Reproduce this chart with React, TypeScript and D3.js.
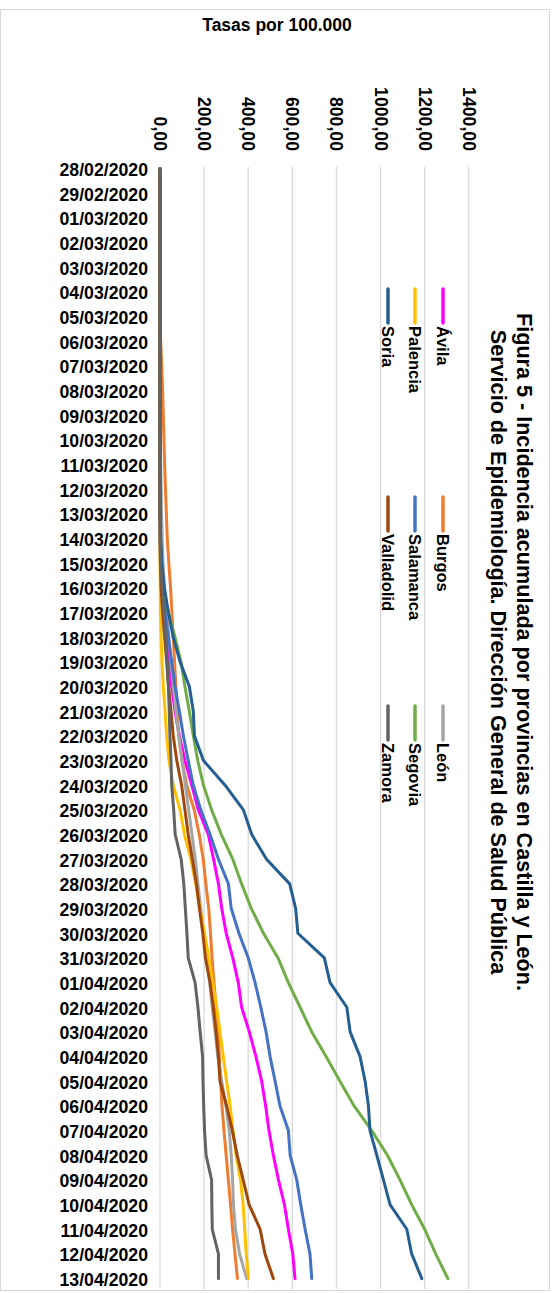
import React from "react";
import * as d3 from "d3";

const dates = [
  "28/02/2020","29/02/2020","01/03/2020","02/03/2020","03/03/2020","04/03/2020","05/03/2020","06/03/2020",
  "07/03/2020","08/03/2020","09/03/2020","10/03/2020","11/03/2020","12/03/2020","13/03/2020","14/03/2020",
  "15/03/2020","16/03/2020","17/03/2020","18/03/2020","19/03/2020","20/03/2020","21/03/2020","22/03/2020",
  "23/03/2020","24/03/2020","25/03/2020","26/03/2020","27/03/2020","28/03/2020","29/03/2020","30/03/2020",
  "31/03/2020","01/04/2020","02/04/2020","03/04/2020","04/04/2020","05/04/2020","06/04/2020","07/04/2020",
  "08/04/2020","09/04/2020","10/04/2020","11/04/2020","12/04/2020","13/04/2020",
];

const avila = [0,0,0,0,0,0,0,0,0,0,0,0,0,0,1,1,3,9,18,30,42,53,68,88,113,144,174,219,243,265,280,300,330,355,370,405,435,461,479,494,514,537,564,582,602,612];
const burgos = [0,0,0,0,0,0,0,3,8,12,15,18,21,25,29,33,40,48,54,60,66,72,78,85,100,121,155,178,196,208,221,229,236,245,254,265,269,275,281,290,300,310,320,329,340,351];
const leon = [0,0,0,0,0,0,0,0,0,0,1,2,3,5,7,10,14,20,30,40,50,60,72,85,100,115,130,145,160,172,185,198,210,225,237,250,262,280,299,314,323,329,333,342,361,393];
const palencia = [0,0,0,0,0,0,0,0,0,0,0,0,0,0,0,0,0,1,2,5,9,15,23,30,41,60,91,111,140,162,181,202,221,239,257,272,287,302,318,331,345,365,377,384,391,401];
const salamanca = [0,0,0,0,0,0,0,0,0,0,0,0,0,0,1,2,5,12,23,38,53,68,88,106,128,151,185,227,265,310,323,358,400,431,457,481,499,522,544,582,590,620,638,658,680,688];
const segovia = [0,0,0,0,0,0,0,0,0,0,0,0,0,0,1,2,5,15,38,68,95,113,133,151,171,197,234,278,330,370,414,469,535,582,635,688,753,816,880,960,1031,1088,1141,1200,1250,1305];
const soria = [0,0,0,0,0,0,0,0,0,0,0,0,0,0,1,3,8,20,38,60,91,133,151,156,197,295,378,416,483,588,615,625,745,771,847,862,907,930,945,952,983,1013,1043,1119,1141,1187];
const valladolid = [0,0,0,0,0,0,0,0,0,0,0,0,0,0,0,1,2,5,12,21,30,39,50,60,76,98,113,128,147,165,179,194,206,227,242,254,265,272,302,328,350,377,404,454,476,514];
const zamora = [0,0,0,0,0,0,0,0,0,0,0,0,0,0,0,0,2,10,18,26,33,38,42,45,50,53,62,69,96,108,115,122,128,159,172,182,193,195,198,202,209,234,235,237,265,265];

const seriesNames = ["Ávila","Burgos","León","Palencia","Salamanca","Segovia","Soria","Valladolid","Zamora"];
const seriesValues = [avila, burgos, leon, palencia, salamanca, segovia, soria, valladolid, zamora];
const seriesColors = ["#FF00FF","#ED7D31","#A5A5A5","#FFC000","#4472C4","#70AD47","#255E91","#9E480E","#636363"];

const tickValues = [0,200,400,600,800,1000,1200,1400];
const axisTitle = "Tasas por 100.000";
const titleLines = [
  "Figura 5 - Incidencia acumulada por provincias en Castilla y León.",
  "Servicio de Epidemiología. Dirección General de Salud Pública",
];

const W = 556;
const H = 1293;
const FONT = "'Liberation Sans', Arial, sans-serif";

export default function App() {
  const x = d3.scaleLinear().domain([0, 1400]).range([160, 468.8]);
  const y = d3.scalePoint<string>().domain(dates).range([168.5, 1278.6]);
  const plotTop = 167;
  const plotBottom = 1289;

  const line = d3
    .line<number>()
    .x((v) => x(v))
    .y((_, i) => y(dates[i]) as number);

  const legendRowX = [443, 415, 388];
  const legendColY = [289, 497, 706];

  return (
    <svg
      width={W}
      height={H}
      style={{ position: "absolute", left: 0, top: 0, background: "#fff" }}
      fontFamily={FONT}
    >
      <rect x={0.5} y={9.5} width={549} height={1281} fill="#fff" stroke="#D9D9D9" strokeWidth={1} />

      {/* gridlines */}
      {tickValues.map((t) => (
        <line key={t} x1={x(t)} x2={x(t)} y1={plotTop} y2={plotBottom} stroke="#D9D9D9" strokeWidth={1.3} />
      ))}

      {/* axis title */}
      <text x={277} y={25} textAnchor="middle" dominantBaseline="central" fontWeight="bold" fontSize={17.5} fill="#000">
        {axisTitle}
      </text>

      {/* tick labels rotated */}
      {tickValues.map((t) => (
        <text
          key={t}
          transform={`translate(${x(t)},151) rotate(90)`}
          textAnchor="end"
          dominantBaseline="central"
          fontWeight="bold"
          fontSize={17.7}
          fill="#000"
        >
          {d3.format(".2f")(t).replace(".", ",")}
        </text>
      ))}

      {/* date labels */}
      {dates.map((d) => (
        <text
          key={d}
          x={148}
          y={(y(d) as number) + 1.5}
          textAnchor="end"
          dominantBaseline="central"
          fontWeight="bold"
          fontSize={17.7}
          fill="#000"
        >
          {d}
        </text>
      ))}

      {/* series lines */}
      {seriesValues.map((vals, k) => (
        <path
          key={seriesNames[k]}
          d={line(vals) || ""}
          fill="none"
          stroke={seriesColors[k]}
          strokeWidth={3}
          strokeLinejoin="round"
          strokeLinecap="round"
        />
      ))}

      {/* legend */}
      {seriesNames.map((name, k) => {
        const lx = legendRowX[Math.floor(k / 3)];
        const ly = legendColY[k % 3];
        return (
          <g key={name}>
            <line x1={lx} x2={lx} y1={ly} y2={ly + 34} stroke={seriesColors[k]} strokeWidth={3.5} strokeLinecap="round" />
            <text
              transform={`translate(${lx},${ly + 37}) rotate(90)`}
              textAnchor="start"
              dominantBaseline="central"
              fontWeight="bold"
              fontSize={16.5}
              fill="#000"
            >
              {name}
            </text>
          </g>
        );
      })}

      {/* chart title */}
      {titleLines.map((t, i) => (
        <text
          key={i}
          transform={`translate(${524 - i * 26},652) rotate(90)`}
          textAnchor="middle"
          dominantBaseline="central"
          fontWeight="bold"
          fontSize={21.6}
          fill="#000"
        >
          {t}
        </text>
      ))}
    </svg>
  );
}
